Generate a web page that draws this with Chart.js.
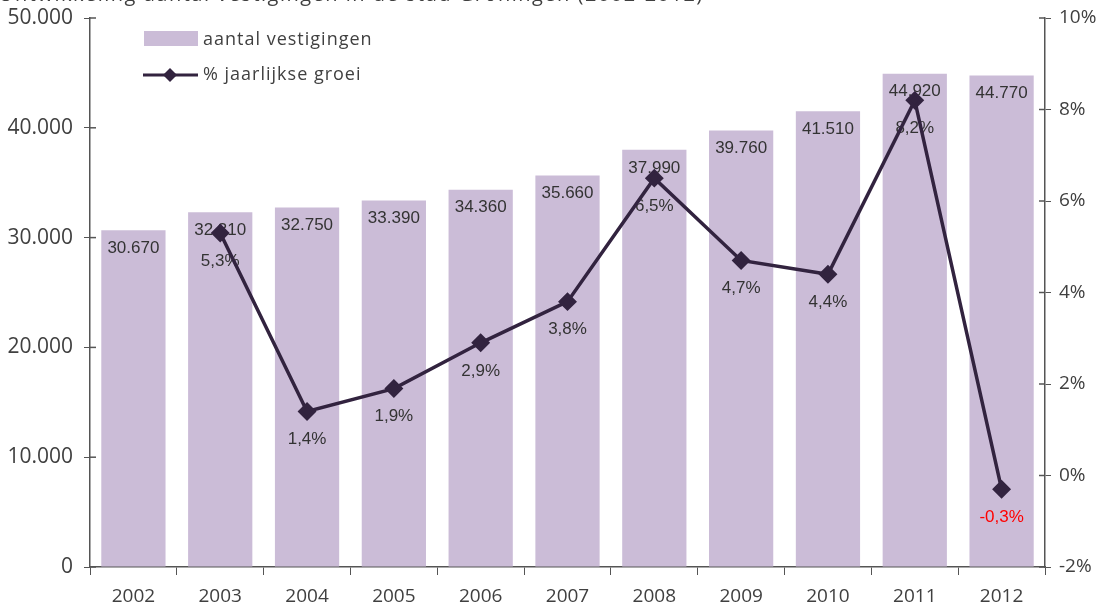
<!DOCTYPE html>
<html>
<head>
<meta charset="utf-8">
<script src="https://cdn.jsdelivr.net/npm/chart.js@4.4.1/dist/chart.umd.min.js"></script>
<style>
  html, body { margin: 0; padding: 0; background: #fff; }
  #wrap { width: 1103px; height: 610px; }
</style>
</head>
<body>
<div id="wrap"><canvas id="chart" width="1103" height="610"></canvas></div>
<script>
const years = ['2002', '2003', '2004', '2005', '2006', '2007', '2008', '2009', '2010', '2011', '2012'];
const vestigingen = [30670, 32310, 32750, 33390, 34360, 35660, 37990, 39760, 41510, 44920, 44770];
const groei = [null, 5.3, 1.4, 1.9, 2.9, 3.8, 6.5, 4.7, 4.4, 8.2, -0.3];
const titleText = 'Ontwikkeling aantal vestigingen in de stad Groningen (2002-2012)';

const barColor = '#cbbcd7';
const lineColor = '#32233f';
const textColor = '#404040';
const axisColor = '#555555';

function formatThousands(value) {
  return String(value).replace(/\B(?=(\d{3})+(?!\d))/g, '.');
}

function formatPercent(value) {
  return String(value.toFixed(1)).replace('.', ',') + '%';
}

// fixed axis size, without the extra room chart.js keeps for half a label
function fixAxis(size) {
  return (scale) => {
    if (scale.isHorizontal()) {
      scale.height = size;
    } else {
      scale.width = size;
    }
    scale.paddingTop = 0;
    scale.paddingBottom = 0;
    scale.paddingLeft = 0;
    scale.paddingRight = 0;
  };
}

// labels are drawn right after the bars, so the line sits on top of them
const labelPlugin = {
  id: 'valueLabels',
  afterDatasetDraw(chart, args) {
    if (args.index !== 0) {
      return;
    }
    const ctx = chart.ctx;
    const barMeta = chart.getDatasetMeta(0);
    const lineMeta = chart.getDatasetMeta(1);
    ctx.save();
    ctx.font = '17px "Liberation Sans", Arial, sans-serif';
    ctx.textAlign = 'center';
    ctx.textBaseline = 'middle';

    barMeta.data.forEach((bar, i) => {
      ctx.fillStyle = '#333333';
      ctx.fillText(formatThousands(vestigingen[i]), bar.x, bar.y + 18);
    });

    lineMeta.data.forEach((point, i) => {
      if (groei[i] === null) {
        return;
      }
      ctx.fillStyle = groei[i] < 0 ? '#ff0000' : '#333333';
      ctx.fillText(formatPercent(groei[i]), point.x, point.y + 28);
    });
    ctx.restore();
  }
};

// small tick marks on the inner side of both value axes
const innerTicks = {
  id: 'innerTicks',
  afterDraw(chart) {
    const ctx = chart.ctx;
    const area = chart.chartArea;
    ctx.save();
    ctx.strokeStyle = axisColor;
    ctx.lineWidth = 1.5;
    chart.scales.y.ticks.forEach((tick) => {
      const y = chart.scales.y.getPixelForValue(tick.value);
      ctx.beginPath();
      ctx.moveTo(area.left, y);
      ctx.lineTo(area.left + 6, y);
      ctx.stroke();
    });
    chart.scales.y1.ticks.forEach((tick) => {
      const y = chart.scales.y1.getPixelForValue(tick.value);
      ctx.beginPath();
      ctx.moveTo(area.right - 6, y);
      ctx.lineTo(area.right, y);
      ctx.stroke();
    });
    ctx.restore();
  }
};

const legendPlugin = {
  id: 'insideLegend',
  afterDraw(chart) {
    const ctx = chart.ctx;
    ctx.save();
    ctx.font = '18px "Open Sans", sans-serif';
    ctx.letterSpacing = '1px';
    ctx.textBaseline = 'middle';

    ctx.fillStyle = barColor;
    ctx.fillRect(144, 31, 54, 15);
    ctx.fillStyle = textColor;
    ctx.fillText(chart.data.datasets[0].label, 203, 40);

    ctx.strokeStyle = lineColor;
    ctx.lineWidth = 3;
    ctx.beginPath();
    ctx.moveTo(143, 75);
    ctx.lineTo(198, 75);
    ctx.stroke();
    ctx.fillStyle = lineColor;
    ctx.beginPath();
    ctx.moveTo(170, 68);
    ctx.lineTo(177, 75);
    ctx.lineTo(170, 82);
    ctx.lineTo(163, 75);
    ctx.closePath();
    ctx.fill();
    ctx.fillStyle = textColor;
    ctx.fillText(chart.data.datasets[1].label, 203, 75);

    // title, mostly cut off at the top edge
    ctx.font = '20px "Open Sans", sans-serif';
    ctx.letterSpacing = '1.5px';
    ctx.textBaseline = 'alphabetic';
    ctx.fillText(titleText, -2, 1);
    ctx.restore();
  }
};

new Chart(document.getElementById('chart'), {
  type: 'bar',
  data: {
    labels: years,
    datasets: [
      {
        label: 'aantal vestigingen',
        data: vestigingen,
        backgroundColor: barColor,
        barPercentage: 0.74,
        categoryPercentage: 1,
        yAxisID: 'y',
        order: 1
      },
      {
        type: 'line',
        label: '% jaarlijkse groei',
        data: groei,
        borderColor: lineColor,
        backgroundColor: lineColor,
        borderWidth: 3.5,
        pointStyle: 'rectRot',
        pointRadius: 7,
        pointHoverRadius: 7,
        tension: 0,
        yAxisID: 'y1',
        order: 0
      }
    ]
  },
  options: {
    responsive: false,
    animation: false,
    layout: { padding: { top: 18, left: 0, right: 0, bottom: 0 } },
    plugins: {
      legend: { display: false },
      tooltip: { enabled: false }
    },
    scales: {
      x: {
        grid: { display: true, drawOnChartArea: false, offset: true, tickLength: 8, color: axisColor },
        border: { color: axisColor, width: 1.5 },
        ticks: { color: textColor, font: { family: 'Open Sans', size: 19 }, padding: 10 },
        afterFit: fixAxis(43)
      },
      y: {
        position: 'left',
        min: 0,
        max: 50000,
        ticks: {
          stepSize: 10000,
          color: textColor,
          font: { family: 'Open Sans', size: 21 },
          padding: 11,
          callback: (value) => formatThousands(value)
        },
        grid: { drawOnChartArea: false, tickLength: 6, color: axisColor },
        border: { color: axisColor, width: 1.5 },
        afterFit: fixAxis(90)
      },
      y1: {
        position: 'right',
        min: -2,
        max: 10,
        ticks: {
          stepSize: 2,
          color: textColor,
          font: { family: 'Open Sans', size: 19 },
          padding: 8,
          callback: (value) => value + '%'
        },
        grid: { drawOnChartArea: false, tickLength: 6, color: axisColor },
        border: { color: axisColor, width: 1.5 },
        afterFit: fixAxis(58)
      }
    }
  },
  plugins: [labelPlugin, innerTicks, legendPlugin]
});
</script>
</body>
</html>
